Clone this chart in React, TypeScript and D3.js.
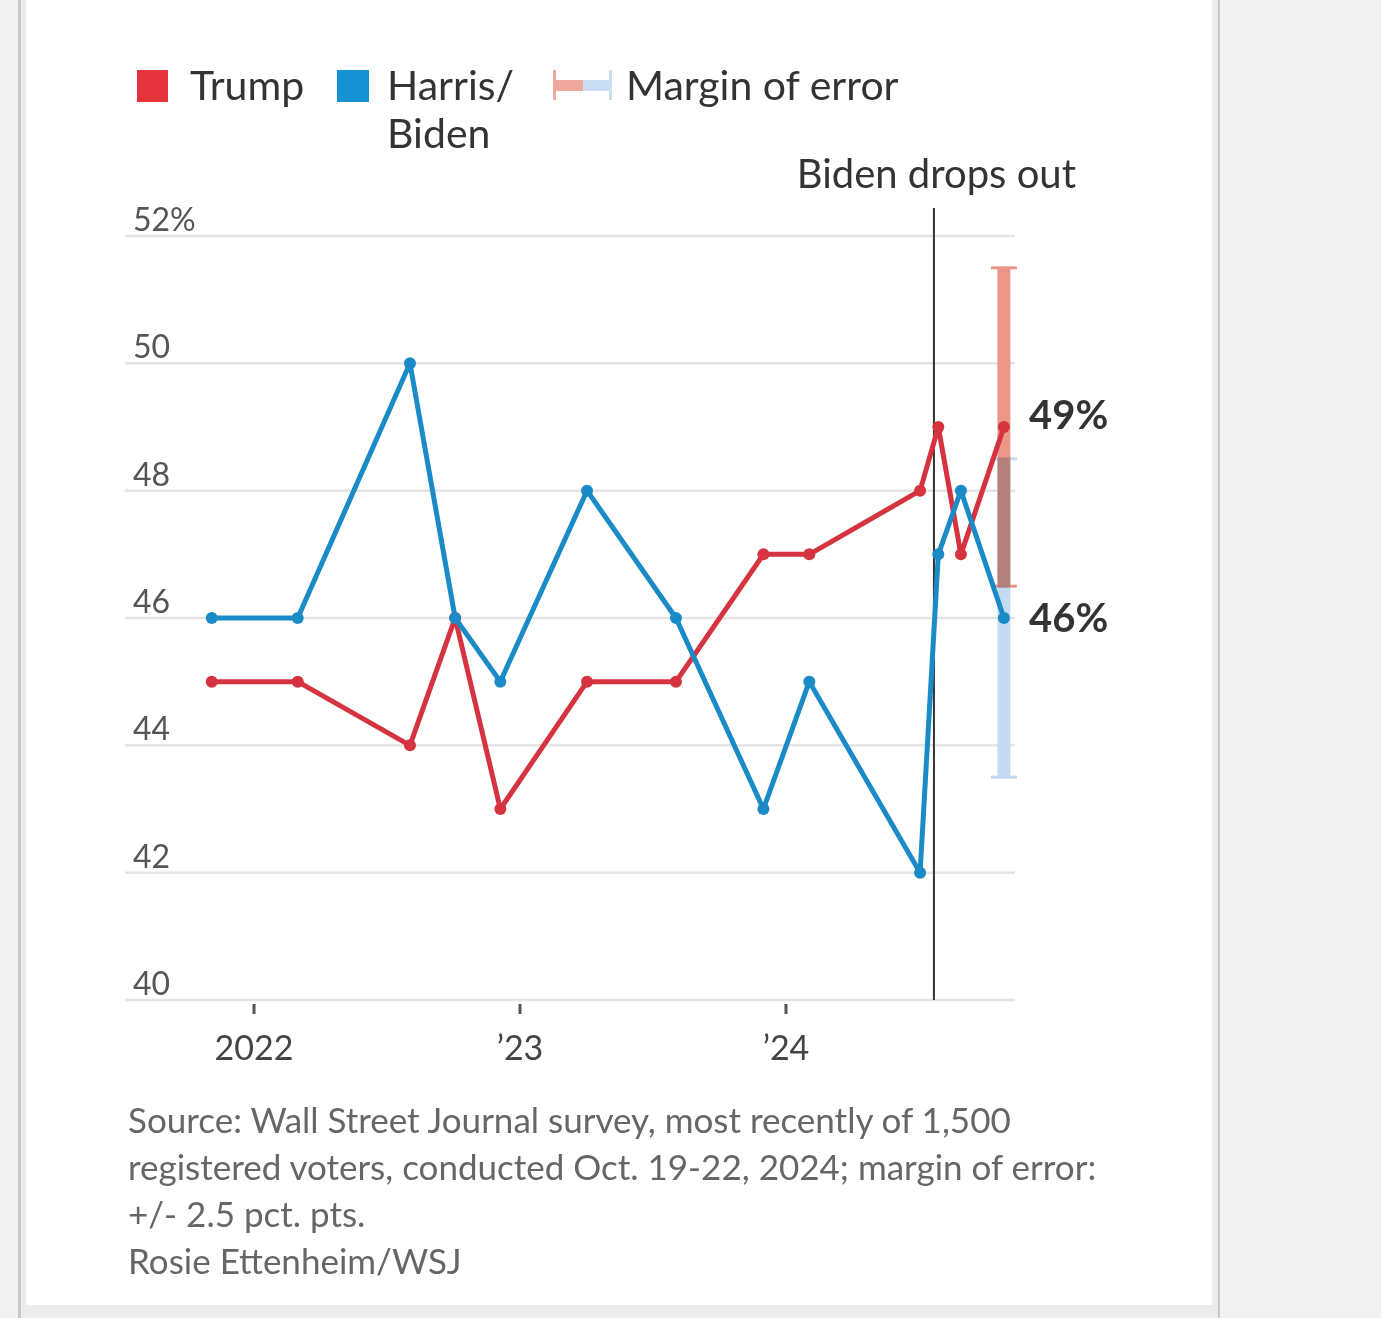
import React from 'react';
import * as d3 from 'd3';

const pollDates = ['2021-11-04','2022-03-02','2022-08-03','2022-10-04','2022-12-05','2023-04-03','2023-08-03','2023-12-01','2024-02-02','2024-07-03','2024-07-28','2024-08-28','2024-10-26'];
const trump = [45,45,44,46,43,45,45,47,47,48,49,47,49];
const harrisBiden = [46,46,50,46,45,48,46,43,45,42,47,48,46];
const yTicks = [40,42,44,46,48,50,52];
const xTickDates = ['2022-01-01','2023-01-01','2024-01-01'];
const xTickLabels = ['2022', '\u201923', '\u201924'];
const marginOfError = 2.5;
const dropOutDate = '2024-07-22';
const sourceLines = [
  'Source: Wall Street Journal survey, most recently of 1,500',
  'registered voters, conducted Oct. 19-22, 2024; margin of error:',
  '+/- 2.5 pct. pts.',
  'Rosie Ettenheim/WSJ',
];

const RED = '#d4333f';
const BLUE = '#1a8bc6';
const FONT = 'Lato, "Open Sans", sans-serif';

export default function App() {
  const W = 1381, H = 1318;
  const parse = (s: string) => new Date(s + 'T00:00:00Z');
  const x = d3.scaleUtc().domain([parse('2022-01-01'), parse('2024-01-01')]).range([254, 786]);
  const y = d3.scaleLinear().domain([40, 52]).range([1000, 236]);
  const gridX0 = 125, gridX1 = 1015;

  const trumpPts = pollDates.map((d, i) => ({ d: parse(d), v: trump[i] }));
  const bluePts = pollDates.map((d, i) => ({ d: parse(d), v: harrisBiden[i] }));
  const line = d3.line<{ d: Date; v: number }>().x(p => x(p.d)).y(p => y(p.v));

  const lastT = trumpPts[trumpPts.length - 1];
  const lastB = bluePts[bluePts.length - 1];
  const mx = x(lastT.d);
  const barW = 13, capW = 26;
  const dropX = x(parse(dropOutDate));

  return (
    <div style={{ position: 'absolute', left: 0, top: 0, width: W, height: H }}>
      <svg width={W} height={H} style={{ display: 'block', fontFamily: FONT }}>
        <rect x={0} y={0} width={W} height={H} fill="#f1f1f1" />
        <rect x={18} y={0} width={1202} height={H} fill="#c9c9c9" />
        <rect x={21} y={0} width={1197} height={H} fill="#ececec" />
        <rect x={26} y={0} width={1186} height={1305} fill="#ffffff" />

        {/* legend */}
        <rect x={137} y={70} width={31} height={32} fill="#e5323b" />
        <text x={190} y={100} fontSize={41} fill="#333">Trump</text>
        <rect x={337} y={70} width={32} height={32} fill="#1592d6" />
        <text x={387} y={100} fontSize={41} fill="#333">Harris/</text>
        <text x={387} y={148} fontSize={41} fill="#333">Biden</text>
        <g>
          <rect x={555} y={80} width={28} height={11} fill="#f0a79c" />
          <rect x={583} y={80} width={28} height={11} fill="#c9def2" />
          <rect x={553} y={70} width={3} height={30} fill="#f0a79c" />
          <rect x={609} y={70} width={3} height={30} fill="#c9def2" />
        </g>
        <text x={626} y={100} fontSize={41} fill="#333">Margin of error</text>

        {/* gridlines */}
        {yTicks.map(t => (
          <g key={t}>
            <line x1={gridX0} x2={gridX1} y1={y(t)} y2={y(t)} stroke="#e4e4e4" strokeWidth={2.5} />
            <text x={133} y={y(t) - 5} fontSize={32} fill="#555">{t === 52 ? '52%' : t}</text>
          </g>
        ))}

        {/* x ticks */}
        {xTickDates.map((d, i) => (
          <g key={d}>
            <line x1={x(parse(d))} x2={x(parse(d))} y1={1004} y2={1014} stroke="#555" strokeWidth={3} />
            <text x={x(parse(d))} y={1060} fontSize={34} fill="#444" textAnchor="middle">{xTickLabels[i]}</text>
          </g>
        ))}

        {/* margin of error bars */}
        <g style={{ isolation: 'isolate' }}>
          <g style={{ mixBlendMode: 'multiply' }}>
            <rect x={mx - barW / 2} y={y(lastB.v + marginOfError)} width={barW} height={y(lastB.v - marginOfError) - y(lastB.v + marginOfError)} fill="#c4daf0" />
            <rect x={mx - capW / 2} y={y(lastB.v - marginOfError) - 1.5} width={capW} height={3} fill="#c4daf0" />
            <rect x={mx - capW / 2} y={y(lastB.v + marginOfError) - 1.5} width={capW} height={3} fill="#c4daf0" />
          </g>
          <g style={{ mixBlendMode: 'multiply' }}>
            <rect x={mx - barW / 2} y={y(lastT.v + marginOfError)} width={barW} height={y(lastT.v - marginOfError) - y(lastT.v + marginOfError)} fill="#eb9686" />
            <rect x={mx - capW / 2} y={y(lastT.v + marginOfError) - 1.5} width={capW} height={3} fill="#eb9686" />
            <rect x={mx - capW / 2} y={y(lastT.v - marginOfError) - 1.5} width={capW} height={3} fill="#eb9686" />
          </g>
        </g>

        {/* drop out line */}
        <line x1={dropX} x2={dropX} y1={208} y2={1000} stroke="#333" strokeWidth={2} />
        <text x={1076} y={188} fontSize={40} fill="#333" textAnchor="end">Biden drops out</text>

        {/* series */}
        <path d={line(trumpPts) || ''} fill="none" stroke={RED} strokeWidth={5} strokeLinejoin="round" />
        <path d={line(bluePts) || ''} fill="none" stroke={BLUE} strokeWidth={5} strokeLinejoin="round" />
        {trumpPts.map((p, i) => <circle key={'t' + i} cx={x(p.d)} cy={y(p.v)} r={6} fill={RED} />)}
        {bluePts.map((p, i) => <circle key={'b' + i} cx={x(p.d)} cy={y(p.v)} r={6} fill={BLUE} />)}

        <text x={1029} y={y(lastT.v) + 2} fontSize={40} fontWeight={700} fill="#333">{lastT.v}%</text>
        <text x={1029} y={y(lastB.v) + 14} fontSize={40} fontWeight={700} fill="#333">{lastB.v}%</text>

        {/* source */}
        {sourceLines.map((s, i) => (
          <text key={i} x={128} y={1133 + i * 47} fontSize={35} fill="#666">{s}</text>
        ))}
      </svg>
    </div>
  );
}
